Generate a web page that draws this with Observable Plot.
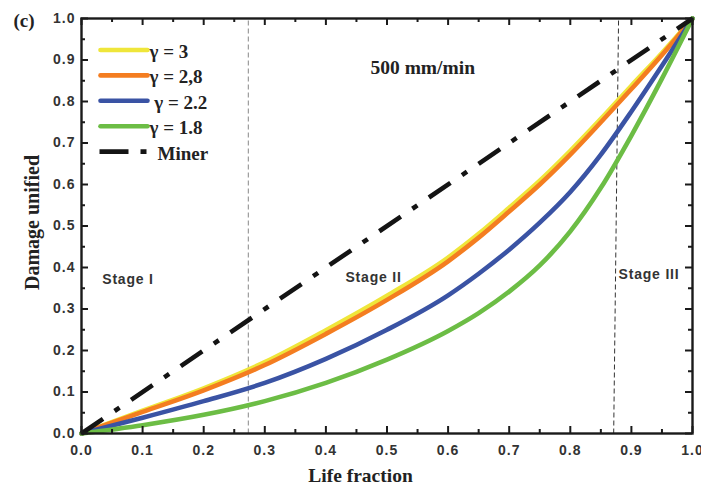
<!DOCTYPE html>
<html><head><meta charset="utf-8">
<script src="https://cdn.jsdelivr.net/npm/d3@7"></script>
<script src="https://cdn.jsdelivr.net/npm/@observablehq/plot@0.6"></script>
<style>
html,body{margin:0;padding:0;background:#fff;}
#chart{width:701px;height:485px;overflow:hidden;}
#chart svg{overflow:visible;}
.ticklab text{letter-spacing:1px;}
.stage text{letter-spacing:0.8px;}
</style></head><body><div id="chart"></div>
<script>
// ---- data ----
const lifeFraction = [0, 0.1, 0.2, 0.3, 0.4, 0.5, 0.6, 0.65, 0.7, 0.75, 0.8, 0.85, 0.9, 0.95, 1];
const damageGamma3  = [0, 0.055, 0.109, 0.172, 0.249, 0.332, 0.424, 0.481, 0.544, 0.609, 0.681, 0.758, 0.838, 0.917, 1];
const damageGamma28 = [0, 0.052, 0.104, 0.165, 0.240, 0.322, 0.415, 0.472, 0.535, 0.600, 0.672, 0.750, 0.830, 0.912, 1];
const damageGamma22 = [0, 0.038, 0.078, 0.122, 0.180, 0.250, 0.333, 0.385, 0.443, 0.508, 0.582, 0.672, 0.776, 0.886, 1];
const damageGamma18 = [0, 0.020, 0.045, 0.078, 0.122, 0.178, 0.247, 0.290, 0.342, 0.405, 0.487, 0.592, 0.718, 0.855, 1];
const seriesLabels = ["γ = 3", "γ = 2,8", "\u00a0γ = 2.2", "γ = 1.8"];
const minerLabel = "Miner";
const minerX = [0, 1];
const minerY = [0, 1];
const tickValues = [0, 0.1, 0.2, 0.3, 0.4, 0.5, 0.6, 0.7, 0.8, 0.9, 1];
const tickLabels = ["0.0", "0.1", "0.2", "0.3", "0.4", "0.5", "0.6", "0.7", "0.8", "0.9", "1.0"];
const minorTickValues = [0.05, 0.15, 0.25, 0.35, 0.45, 0.55, 0.65, 0.75, 0.85, 0.95];
const stageNames = ["Stage I", "Stage II", "Stage III"];
const stageX = [0.034, 0.432, 0.879];
const stageY = [0.371, 0.377, 0.382];
const boundaryBottomX = [0.273, 0.871];
const boundaryTopX = [0.273, 0.879];
const speedLabel = "500 mm/min";
const speedX = 0.473, speedY = 0.881;
const panelLabel = "(c)";
const xTitle = "Life fraction";
const yTitle = "Damage unified";

// ---- styling / layout ----
const seriesValues = [damageGamma3, damageGamma28, damageGamma22, damageGamma18];
const colors = ["#efe63a", "#f47d20", "#3a53a4", "#6cbd45"];
const boundaryColors = ["#888", "#333"];
const serif = "'Liberation Serif','Times New Roman',serif";
const sans = "'Liberation Sans',Arial,sans-serif";
const mL = 81, mR = 9, mT = 18, mB = 52, W = 701, H = 485;
const iw = W - mL - mR, ih = H - mT - mB;
const px2x = p => (p - mL) / iw;
const px2y = p => (H - mB - p) / ih;

const curveMarks = seriesValues.map((vals, s) =>
  Plot.line(lifeFraction.map((x, i) => ({x, y: vals[i]})), {
    x: "x", y: "y", stroke: colors[s], strokeWidth: 4.6, curve: "monotone-x"
  })
);
const legendRows = seriesLabels.map((label, i) => ({label, i, y: px2y(49.5 + i * 25.4)}));
const minerRowY = px2y(49.5 + 4 * 25.4);
const boundaryMarks = boundaryBottomX.map((x1, i) =>
  Plot.link([x1], {x1: x1, x2: boundaryTopX[i], y1: 0, y2: 1,
    stroke: boundaryColors[i], strokeWidth: 1, strokeDasharray: "5,3"}));
const stages = stageNames.map((name, i) => ({name, x: stageX[i], y: stageY[i]}));
const legendLineMarks = legendRows.map(r =>
  Plot.link([r], {x1: px2x(100), x2: px2x(147), y1: "y", y2: "y",
    stroke: colors[r.i], strokeWidth: 4.6, strokeLinecap: "round"}));

const tickFmt = d => tickLabels[tickValues.indexOf(d)];
const axisInk = "#1a1a1a";
const inwardTicks = (vals, len) => [
  Plot.tickY(vals, {y: d => d, insetRight: iw - len, stroke: axisInk, strokeWidth: 2}),
  Plot.tickY(vals, {y: d => d, insetLeft: iw - len, stroke: axisInk, strokeWidth: 2}),
  Plot.tickX(vals, {x: d => d, insetTop: ih - len, stroke: axisInk, strokeWidth: 2}),
  Plot.tickX(vals, {x: d => d, insetBottom: ih - len, stroke: axisInk, strokeWidth: 2})
];

const chart = Plot.plot({
  width: W, height: H,
  marginLeft: mL, marginRight: mR, marginTop: mT, marginBottom: mB,
  x: {domain: [0, 1], label: null},
  y: {domain: [0, 1], label: null},
  style: {background: "#fff", color: "#222", fontFamily: sans},
  marks: [
    ...boundaryMarks,
    ...curveMarks,
    Plot.line(minerX.map((x, i) => ({x, y: minerY[i]})), {x: "x", y: "y",
      stroke: "#141414", strokeWidth: 4.6, strokeDasharray: "26,14,6,14", strokeLinecap: "butt"}),
    Plot.frame({stroke: axisInk, strokeWidth: 2.4}),
    Plot.axisY({anchor: "left", ticks: tickValues, tickSize: 0, tickPadding: 6, tickFormat: tickFmt,
      label: null, fontSize: 14, fontWeight: "bold", fill: "#333", className: "ticklab"}),
    Plot.axisX({anchor: "bottom", ticks: tickValues, tickSize: 0, tickPadding: 12, tickFormat: tickFmt,
      label: null, fontSize: 14, fontWeight: "bold", fill: "#333", className: "ticklab"}),
    Plot.text([yTitle], {text: d => d, frameAnchor: "left", textAnchor: "middle", lineAnchor: "middle",
      dx: -49, dy: -3.5, rotate: -90,
      fontFamily: serif, fontWeight: "bold", fontSize: 20, fill: "#222"}),
    Plot.text([xTitle], {text: d => d, frameAnchor: "bottom", dx: -26.5, dy: 48,
      fontFamily: serif, fontWeight: "bold", fontSize: 19.5, fill: "#222"}),
    Plot.text([panelLabel], {text: d => d, frameAnchor: "top-left", dx: -68, dy: -5, textAnchor: "start",
      fontFamily: serif, fontWeight: "bold", fontSize: 19, fill: "#222"}),
    Plot.text([speedLabel], {text: d => d, x: speedX, y: speedY, textAnchor: "start",
      fontFamily: serif, fontWeight: "bold", fontSize: 19.5, fill: "#222"}),
    Plot.text(stages, {text: "name", x: "x", y: "y", textAnchor: "start",
      fontFamily: sans, fontWeight: "bold", fontSize: 14, fill: "#333", className: "stage"}),
    ...legendLineMarks,
    Plot.link([minerLabel], {x1: px2x(99), x2: px2x(147), y1: minerRowY, y2: minerRowY,
      stroke: "#141414", strokeWidth: 4.6, strokeDasharray: "29,12,6,100", strokeLinecap: "butt"}),
    Plot.text(legendRows, {text: "label", x: px2x(149), y: "y", dy: 2, textAnchor: "start",
      fontFamily: serif, fontWeight: "bold", fontSize: 19, fill: "#222"}),
    Plot.text([minerLabel], {text: d => d, x: px2x(157), y: minerRowY, dy: 2, textAnchor: "start",
      fontFamily: serif, fontWeight: "bold", fontSize: 19, fill: "#222"}),
    // inward major and minor ticks on all four sides, drawn last
    ...inwardTicks(tickValues, 7),
    ...inwardTicks(minorTickValues, 4)
  ]
});
document.getElementById("chart").appendChild(chart);
</script>
</body></html>
